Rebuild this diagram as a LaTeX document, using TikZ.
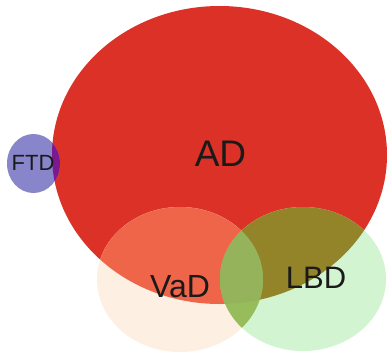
\documentclass[tikz,border=0pt]{standalone}
\usepackage{fontspec}
\setmainfont{Liberation Sans}
\definecolor{adred}{HTML}{DC3126}
\definecolor{ftdblue}{HTML}{8885CB}
\definecolor{ftdad}{HTML}{7A1A8E}
\definecolor{vadonly}{HTML}{FDF0E3}
\definecolor{vadad}{HTML}{EE654A}
\definecolor{lbdonly}{HTML}{D3F4D1}
\definecolor{lbdad}{HTML}{938329}
\definecolor{lensin}{HTML}{95B35A}
\definecolor{lensout}{HTML}{96BC5C}
\definecolor{txt}{HTML}{1A1A1A}
\begin{document}
\begin{tikzpicture}[x=1pt,y=-1pt,
  lbl/.style={text=txt,inner sep=0pt,anchor=center}]
\def\ADpath{(219.5,155) ellipse [x radius=167.5,y radius=149]}
\def\FTDpath{(33.5,163.5) ellipse [x radius=26.5,y radius=29.5]}
\def\VaDpath{(180,279.5) ellipse [x radius=83,y radius=72.5]}
\def\LBDpath{(303,279) ellipse [x radius=83,y radius=72]}
\fill[white] (0,0) rectangle (388,354);
\useasboundingbox (0,0) rectangle (388,354);
% AD
\fill[adred] \ADpath;
% FTD
\fill[ftdblue] \FTDpath;
\begin{scope}\clip \ADpath; \fill[ftdad] \FTDpath; \end{scope}
% VaD
\fill[vadonly] \VaDpath;
\begin{scope}\clip \ADpath; \fill[vadad] \VaDpath; \end{scope}
% LBD
\fill[lbdonly] \LBDpath;
\begin{scope}\clip \ADpath; \fill[lbdad] \LBDpath; \end{scope}
% VaD & LBD lens
\begin{scope}\clip \VaDpath; \clip \LBDpath; \fill[lensout] (0,0) rectangle (388,354);
  \clip \ADpath; \fill[lensin] (0,0) rectangle (388,354);
\end{scope}
% labels
\node[lbl,font=\fontsize{37}{37}\selectfont] (ad) at (220.5,153.5) {AD};
\node[lbl,font=\fontsize{22}{22}\selectfont] (ftd) at (33,163) {FTD};
\node[lbl,font=\fontsize{32}{32}\selectfont] (vad) at (180,286.5) {VaD};
\node[lbl,font=\fontsize{31}{31}\selectfont] (lbd) at (316,278) {LBD};
\end{tikzpicture}
\end{document}
